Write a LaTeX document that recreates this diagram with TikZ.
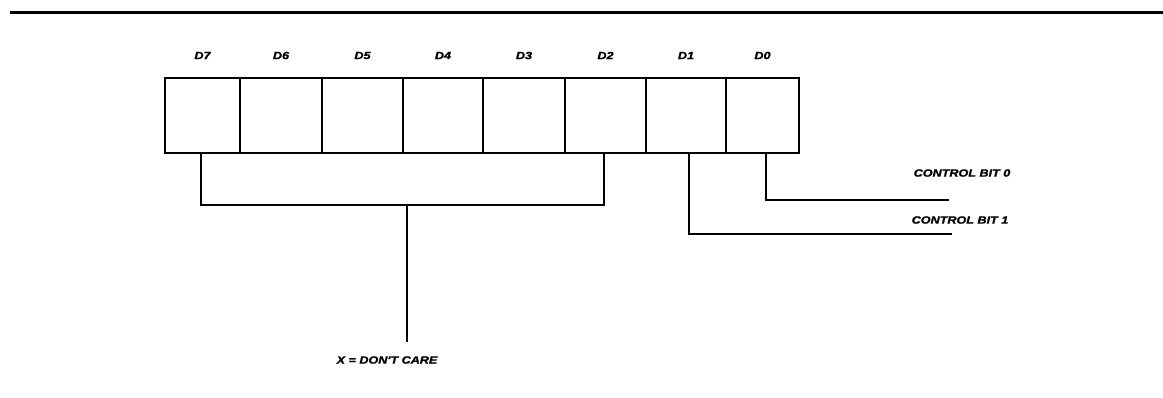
\documentclass[tikz,border=0pt]{standalone}
\usepackage{fontspec}
\newfontfamily\lab[FakeStretch=1.2,FakeBold=1.5]{Liberation Sans}
\begin{document}
\begin{tikzpicture}[x=1pt,y=-1pt,
  bitbox/.style={draw,line width=1.3pt,inner sep=0pt,minimum height=75pt},
  bitlab/.style={font=\lab\bfseries\itshape\fontsize{10.5}{12}\selectfont,inner sep=0pt},
  wire/.style={line width=1.3pt}]
\useasboundingbox (0,0) rectangle (1163,397);
\draw[line width=3pt] (10,12) -- (1163,12);
% boxes: edges 165,240,322,403,483,565,646,726,799 ; top 78, bottom 153
\node[bitbox,minimum width=75pt] (b7) at (202.5,115.5) {};
\node[bitbox,minimum width=82pt] (b6) at (281,115.5) {};
\node[bitbox,minimum width=81pt] (b5) at (362.5,115.5) {};
\node[bitbox,minimum width=80pt] (b4) at (443,115.5) {};
\node[bitbox,minimum width=82pt] (b3) at (524,115.5) {};
\node[bitbox,minimum width=81pt] (b2) at (605.5,115.5) {};
\node[bitbox,minimum width=80pt] (b1) at (686,115.5) {};
\node[bitbox,minimum width=73pt] (b0) at (762.5,115.5) {};
\foreach \b/\t in {b7/D7,b6/D6,b5/D5,b4/D4,b3/D3,b2/D2,b1/D1,b0/D0}
  \node[bitlab] (l\b) at ([yshift=60pt]\b.center) {\t};
% bracket D7..D2
\coordinate (bl) at (201,205);
\coordinate (mid) at (407,205);
\draw[wire] ([xshift=-1.5pt]b7.south) -- (bl) -- (mid) -| ([xshift=-1.5pt]b2.south);
\node[bitlab] (dc) at (387,360) {X = DON'T CARE};
\draw[wire] (mid) -- (407,342);
% control bits
\node[bitlab] (c0) at (962,173) {CONTROL BIT 0};
\node[bitlab] (c1) at (960,220) {CONTROL BIT 1};
\coordinate (e0) at (949,200);
\coordinate (e1) at (952,234);
\draw[wire] ([xshift=3.5pt]b0.south) |- (e0);
\draw[wire] ([xshift=3pt]b1.south) |- (e1);
\end{tikzpicture}
\end{document}
